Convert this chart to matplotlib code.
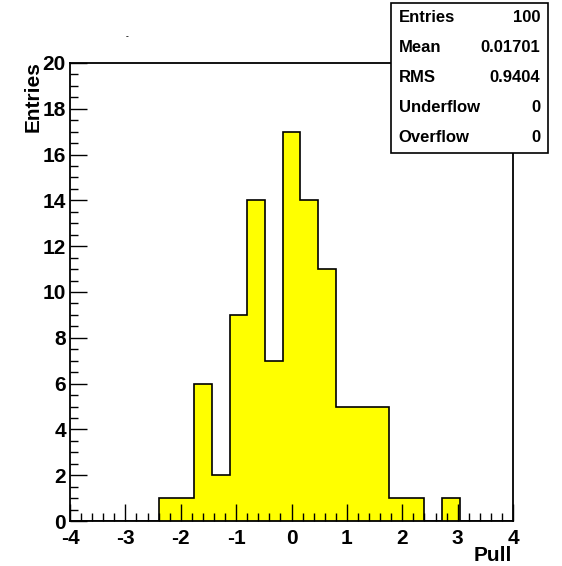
import numpy as np
import matplotlib.pyplot as plt
from matplotlib.ticker import MultipleLocator

plt.rcParams['font.family'] = ['Liberation Sans', 'DejaVu Sans']
plt.rcParams['font.weight'] = 'bold'
plt.rcParams['axes.unicode_minus'] = False

# pull distribution, 25 bins on [-4, 4]
x_lo, x_hi, n_bins = -4.0, 4.0, 25
counts = [0, 0, 0, 0, 0, 1, 1, 6, 2, 9, 14, 7, 17, 14, 11, 5, 5, 5, 1, 1, 0, 1, 0, 0, 0]
stat_names = ["Entries", "Mean", "RMS", "Underflow", "Overflow"]
stat_values = ["100", "0.01701", "0.9404", "0", "0"]

edges = np.linspace(x_lo, x_hi, n_bins + 1)

fig = plt.figure(figsize=(5.62, 5.66), dpi=100)
ax = fig.add_axes([0.1246, 0.0795, 0.7883, 0.8092])

ax.stairs(counts, edges, fill=True, color='#ffff00', baseline=0)
ax.stairs(counts, edges, color='black', linewidth=1.2, baseline=0)

ax.set_xlim(x_lo, x_hi)
ax.set_ylim(0, 20)
ax.xaxis.set_major_locator(MultipleLocator(1))
ax.xaxis.set_minor_locator(MultipleLocator(0.2))
ax.yaxis.set_major_locator(MultipleLocator(2))
ax.yaxis.set_minor_locator(MultipleLocator(0.5))
ax.tick_params(which='both', direction='in', top=False, right=False, width=1)
ax.tick_params(which='major', length=12, labelsize=15)
ax.tick_params(which='minor', length=6)
ax.tick_params(axis='x', which='major', pad=6)
ax.tick_params(axis='y', which='major', pad=3)
for lab in ax.get_xticklabels() + ax.get_yticklabels():
    lab.set_fontweight('bold')
for sp in ax.spines.values():
    sp.set_linewidth(1.3)

fig.text(0.911, 0.002, "Pull", ha='right', va='bottom', fontsize=15, fontweight='bold')
fig.text(0.059, 0.892, "Entries", ha='center', va='top', rotation=90,
         fontsize=15, fontweight='bold')
fig.text(0.226, 0.936, "-", ha='center', va='center', fontsize=6)

# statistics box
bx0, bx1, by0, by1 = 0.6957, 0.9751, 0.7297, 0.9947
box = plt.Rectangle((bx0, by0), bx1 - bx0, by1 - by0, transform=fig.transFigure,
                    facecolor='white', edgecolor='black', linewidth=1.2, zorder=5)
fig.add_artist(box)
row_h = (by1 - by0) / len(stat_names)
for i, (name, val) in enumerate(zip(stat_names, stat_values)):
    yy = by1 - (i + 0.5) * row_h
    fig.text(bx0 + 0.014, yy, name, ha='left', va='center', fontsize=12,
             fontweight='bold', zorder=6)
    fig.text(bx1 - 0.014, yy, val, ha='right', va='center', fontsize=12,
             fontweight='bold', zorder=6)

fig.savefig('out.png', dpi=100)
